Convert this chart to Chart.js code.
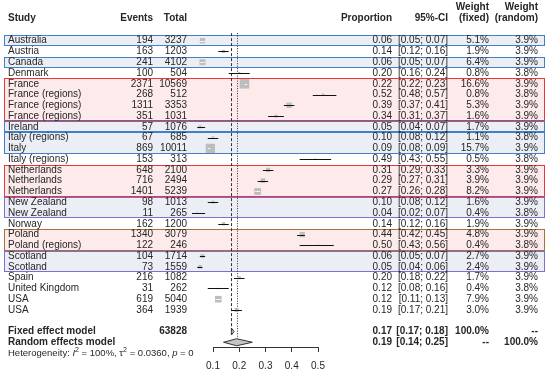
<!DOCTYPE html>
<html>
<head>
<meta charset="utf-8">
<script src="https://cdn.jsdelivr.net/npm/chart.js@4"></script>
<style>
  body { margin: 0; background: #fff; }
  #wrap { width: 550px; height: 371px; position: relative; }
</style>
</head>
<body>
<div id="wrap"><canvas id="forestChart"></canvas></div>
<script>
// study data
const studies = ["Australia", "Austria", "Canada", "Denmark", "France", "France (regions)", "France (regions)",
    "France (regions)", "Ireland", "Italy (regions)", "Italy", "Italy (regions)", "Netherlands", "Netherlands",
    "Netherlands", "New Zealand", "New Zealand", "Norway", "Poland", "Poland (regions)", "Scotland", "Scotland",
    "Spain", "United Kingdom", "USA", "USA"];
const events = [194, 163, 241, 100, 2371, 268, 1311, 351, 57, 67, 869, 153, 648, 716, 1401, 98, 11, 162, 1340, 122, 104, 73, 216, 31, 619, 364];
const totals = [3237, 1203, 4102, 504, 10569, 512, 3353, 1031, 1076, 685, 10011, 313, 2100, 2494, 5239, 1013, 265, 1200, 3079, 246, 1714, 1559, 1082, 262, 5040, 1939];
const props = [0.06, 0.14, 0.06, 0.20, 0.22, 0.52, 0.39, 0.34, 0.05, 0.10, 0.09, 0.49, 0.31, 0.29, 0.27, 0.10, 0.04, 0.14, 0.44, 0.50, 0.06, 0.05, 0.20, 0.12, 0.12, 0.19];
const ciLow = [0.05, 0.12, 0.05, 0.16, 0.22, 0.48, 0.37, 0.31, 0.04, 0.08, 0.08, 0.43, 0.29, 0.27, 0.26, 0.08, 0.02, 0.12, 0.42, 0.43, 0.05, 0.04, 0.18, 0.08, 0.11, 0.17];
const ciHigh = [0.07, 0.16, 0.07, 0.24, 0.23, 0.57, 0.41, 0.37, 0.07, 0.12, 0.09, 0.55, 0.33, 0.31, 0.28, 0.12, 0.07, 0.16, 0.45, 0.56, 0.07, 0.06, 0.22, 0.16, 0.13, 0.21];
const wFixed = [5.1, 1.9, 6.4, 0.8, 16.6, 0.8, 5.3, 1.6, 1.7, 1.1, 15.7, 0.5, 3.3, 3.9, 8.2, 1.6, 0.4, 1.9, 4.8, 0.4, 2.7, 2.4, 1.7, 0.4, 7.9, 3.0];
const wRandom = [3.9, 3.9, 3.9, 3.8, 3.9, 3.8, 3.9, 3.9, 3.9, 3.8, 3.9, 3.8, 3.9, 3.9, 3.9, 3.9, 3.8, 3.9, 3.9, 3.8, 3.9, 3.9, 3.9, 3.8, 3.9, 3.9];

// pooled estimates
const fixedEst = [0.17, 0.17, 0.18];   // est, low, high
const randomEst = [0.19, 0.14, 0.25];
const totalN = 63828;
const xTicks = [0.1, 0.2, 0.3, 0.4, 0.5];

// coloured row groups (first row, last row, colour set)
const colors = {
    blue: ["#3f80c6", "#eceef5"],
    red: ["#e9363e", "#fdeaea"],
    purple: ["#7a70d2", "#eceef5"],
    brown: ["#a8703c", "#fdeaea"]
};
const groups = [[0, 0, "blue"], [2, 2, "blue"], [4, 7, "red"], [8, 8, "blue"], [9, 10, "blue"],
    [12, 14, "red"], [15, 16, "purple"], [18, 19, "brown"], [20, 21, "purple"]];

const FONT = "'Liberation Sans', Arial, sans-serif";
const TXT = "#262626";
const fixedRow = studies.length + 1;
const randomRow = studies.length + 2;

// square side grows with sqrt of fixed weight
function squareSide(w) { return 2.35 * Math.sqrt(w); }

function txt(ctx, s, x, y, align, bold, size) {
    ctx.font = (bold ? "bold " : "") + (size || 10) + "px " + FONT;
    ctx.textAlign = align;
    ctx.textBaseline = "middle";
    ctx.fillStyle = TXT;
    ctx.fillText(s, x, y);
}

const forestPlugin = {
    id: "forest",
    beforeDatasetsDraw(chart) {
        const ctx = chart.ctx;
        const y = chart.scales.y, x = chart.scales.x;
        ctx.save();
        groups.forEach(g => {
            const top = Math.round(y.getPixelForValue(g[0] - 0.5)) + 0.5;
            const bottom = Math.round(y.getPixelForValue(g[1] + 0.5)) - 0.5;
            ctx.fillStyle = colors[g[2]][1];
            ctx.fillRect(4.5, top, 540, bottom - top);
            ctx.strokeStyle = colors[g[2]][0];
            ctx.lineWidth = 1;
            ctx.strokeRect(4.5, top, 540, bottom - top);
        });
        // axis line only between first and last tick
        const axisY = Math.round(chart.chartArea.bottom) + 0.5;
        ctx.strokeStyle = "#333";
        ctx.lineWidth = 1;
        ctx.beginPath();
        ctx.moveTo(Math.round(x.getPixelForValue(xTicks[0])) + 0.5, axisY);
        ctx.lineTo(Math.round(x.getPixelForValue(xTicks[xTicks.length - 1])) + 0.5, axisY);
        ctx.stroke();
        // fixed (dashed) and random (dotted) reference lines
        const top = y.getPixelForValue(-0.7);
        ctx.setLineDash([3, 2]);
        let px = Math.round(x.getPixelForValue(fixedEst[0])) + 0.5;
        ctx.beginPath();
        ctx.moveTo(px, top);
        ctx.lineTo(px, y.getPixelForValue(fixedRow));
        ctx.stroke();
        ctx.setLineDash([1, 1.5]);
        px = Math.round(x.getPixelForValue(randomEst[0])) + 0.5;
        ctx.beginPath();
        ctx.moveTo(px, top);
        ctx.lineTo(px, y.getPixelForValue(randomRow - 0.35));
        ctx.stroke();
        ctx.restore();
    },
    afterDatasetsDraw(chart) {
        const ctx = chart.ctx;
        const y = chart.scales.y, x = chart.scales.x;
        ctx.save();
        ctx.lineWidth = 1;
        studies.forEach((s, i) => {
            const cx = x.getPixelForValue(props[i]);
            const half = squareSide(wFixed[i]) / 2;
            const x1 = x.getPixelForValue(ciLow[i]);
            const x2 = x.getPixelForValue(ciHigh[i]);
            const py = Math.round(y.getPixelForValue(i)) + 0.5;
            const inside = x1 >= cx - half - 0.3 && x2 <= cx + half + 0.3;
            ctx.strokeStyle = inside ? "#f4f4f4" : "#111";
            ctx.beginPath();
            ctx.moveTo(x1, py);
            ctx.lineTo(x2, py);
            ctx.stroke();
        });
        // diamonds
        [[fixedEst, fixedRow], [randomEst, randomRow]].forEach(d => {
            const est = d[0], py = y.getPixelForValue(d[1]);
            ctx.beginPath();
            ctx.moveTo(x.getPixelForValue(est[1]), py);
            ctx.lineTo(x.getPixelForValue(est[0]), py - 3.5);
            ctx.lineTo(x.getPixelForValue(est[2]), py);
            ctx.lineTo(x.getPixelForValue(est[0]), py + 3.5);
            ctx.closePath();
            ctx.fillStyle = "#c4c4c4";
            ctx.fill();
            ctx.strokeStyle = "#333";
            ctx.stroke();
        });
        ctx.restore();
    },
    afterDraw(chart) {
        const ctx = chart.ctx;
        const y = chart.scales.y;
        ctx.save();
        // header
        const hy = y.getPixelForValue(-2.1);
        const wy = y.getPixelForValue(-3.15);
        txt(ctx, "Study", 8, hy, "left", true);
        txt(ctx, "Events", 153, hy, "right", true);
        txt(ctx, "Total", 187, hy, "right", true);
        txt(ctx, "Proportion", 392, hy, "right", true);
        txt(ctx, "95%-CI", 448, hy, "right", true);
        txt(ctx, "Weight", 489, wy, "right", true);
        txt(ctx, "(fixed)", 489, hy, "right", true);
        txt(ctx, "Weight", 538, wy, "right", true);
        txt(ctx, "(random)", 538, hy, "right", true);
        // rows
        studies.forEach((s, i) => {
            const py = y.getPixelForValue(i);
            txt(ctx, s, 8, py, "left");
            txt(ctx, String(events[i]), 153, py, "right");
            txt(ctx, String(totals[i]), 187, py, "right");
            txt(ctx, props[i].toFixed(2), 392, py, "right");
            txt(ctx, "[" + ciLow[i].toFixed(2) + "; " + ciHigh[i].toFixed(2) + "]", 448, py, "right");
            txt(ctx, wFixed[i].toFixed(1) + "%", 489, py, "right");
            txt(ctx, wRandom[i].toFixed(1) + "%", 538, py, "right");
        });
        // pooled rows
        let py = y.getPixelForValue(fixedRow);
        txt(ctx, "Fixed effect model", 8, py, "left", true);
        txt(ctx, String(totalN), 187, py, "right", true);
        txt(ctx, fixedEst[0].toFixed(2), 392, py, "right", true);
        txt(ctx, "[" + fixedEst[1].toFixed(2) + "; " + fixedEst[2].toFixed(2) + "]", 448, py, "right", true);
        txt(ctx, "100.0%", 489, py, "right", true);
        txt(ctx, "--", 538, py, "right", true);
        py = y.getPixelForValue(randomRow);
        txt(ctx, "Random effects model", 8, py, "left", true);
        txt(ctx, randomEst[0].toFixed(2), 392, py, "right", true);
        txt(ctx, "[" + randomEst[1].toFixed(2) + "; " + randomEst[2].toFixed(2) + "]", 448, py, "right", true);
        txt(ctx, "--", 489, py, "right", true);
        txt(ctx, "100.0%", 538, py, "right", true);
        // heterogeneity line with italics and superscripts
        py = y.getPixelForValue(randomRow + 1.05);
        const parts = [["Heterogeneity: ", ""], ["I", "italic "], ["2", "sup"], [" = 100%, \u03c4", ""], ["2", "sup"],
            [" = 0.0360, ", ""], ["p", "italic "], [" = 0", ""]];
        let cx = 8;
        ctx.textAlign = "left";
        ctx.textBaseline = "middle";
        ctx.fillStyle = TXT;
        parts.forEach(p => {
            if (p[1] === "sup") {
                ctx.font = "7px " + FONT;
                ctx.fillText(p[0], cx, py - 4);
            } else {
                ctx.font = p[1] + "9.5px " + FONT;
                ctx.fillText(p[0], cx, py);
            }
            cx += ctx.measureText(p[0]).width;
        });
        ctx.restore();
    }
};

const ctx1 = document.getElementById("forestChart").getContext("2d");
Chart.defaults.font.family = FONT;
const chart1 = new Chart(ctx1, {
    type: "scatter",
    data: {
        datasets: [{
            data: studies.map((s, i) => ({x: props[i], y: i})),
            pointStyle: "rect",
            pointRadius: c => squareSide(wFixed[c.dataIndex]) / (2 * Math.SQRT1_2),
            backgroundColor: "#bdbdbd",
            borderWidth: 0,
            clip: false
        }]
    },
    options: {
        responsive: true,
        maintainAspectRatio: false,
        animation: false,
        events: [],
        layout: { padding: { top: 35.3, left: 186.75, right: 205.75, bottom: 0 } },
        plugins: { legend: { display: false }, tooltip: { enabled: false } },
        scales: {
            x: {
                type: "linear",
                min: 0,
                max: 0.6,
                afterFit: s => { s.height = 24; },
                afterBuildTicks: s => { s.ticks = xTicks.map(v => ({value: v})); },
                ticks: {
                    color: TXT,
                    font: { size: 10 },
                    padding: 8,
                    callback: v => v.toFixed(1)
                },
                grid: { drawOnChartArea: false, tickLength: 5, color: "#333" },
                border: { display: false }
            },
            y: {
                type: "linear",
                display: false,
                reverse: true,
                min: -0.5,
                max: 28.44
            }
        }
    },
    plugins: [forestPlugin]
});
</script>
</body>
</html>
